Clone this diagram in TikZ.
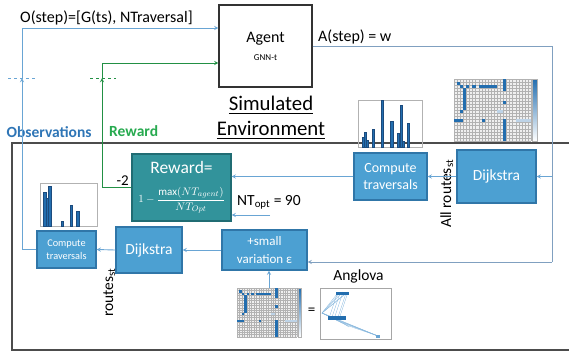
\documentclass[tikz,border=0pt]{standalone}
\usepackage{fontspec}
\setmainfont{Carlito}
\usepackage{amsmath}
\usepackage{tikz}
\usetikzlibrary{arrows,calc}

\definecolor{boxblue}{RGB}{76,160,210}
\definecolor{boxedge}{RGB}{48,118,168}
\definecolor{tealfill}{RGB}{50,147,155}
\definecolor{tealedge}{RGB}{32,108,115}
\definecolor{linkblue}{RGB}{105,165,212}
\definecolor{actgray}{RGB}{128,160,192}
\definecolor{obsblue}{RGB}{46,117,182}
\definecolor{rewgreen}{RGB}{40,170,80}
\definecolor{heatblue}{RGB}{35,110,175}
\definecolor{bardark}{RGB}{28,75,125}

\newcommand{\fsz}[1]{\fontsize{#1}{#1}\selectfont}

% adjacency matrix picture, one cell = one unit
\newcommand{\adjgrid}{%
  \fill[gray!12] (0,0) rectangle (25,20);
  \foreach \c in {0,...,25} \draw[gray!60,line width=0.15pt] (\c,0) -- (\c,20);
  \foreach \r in {0,...,20} \draw[gray!60,line width=0.15pt] (0,\r) -- (25,\r);
  \foreach \c/\r in {1/1,2/2,4/2,6/2,8/2,9/2,10/2,11/2,12/2,13/2,
                     16/0,16/1,16/2,16/3,16/7,16/13,16/14,16/15,16/16,16/17,16/18,16/19,
                     3/3,3/4,3/5,3/6,3/7,3/8,3/9,2/10,0/13,1/13,2/13,9/13}
    \fill[heatblue] (\c,\r) rectangle +(1,1);
  \foreach \c/\r in {14/10,15/10,20/13,21/13,22/13,23/13,24/13}
    \fill[heatblue!30] (\c,\r) rectangle +(1,1);
  \shade[top color=heatblue, bottom color=white] (25.4,0) rectangle (26.9,20);
  \draw[gray!60,line width=0.2pt] (25.4,0) rectangle (26.9,20);
}

\begin{document}
\begin{tikzpicture}[x=1pt,y=-1pt,
  bluebox/.style={draw=boxedge, fill=boxblue, line width=1.2pt, text=white, align=center, inner sep=0pt},
  tealbox/.style={draw=tealedge, fill=tealfill, line width=1.2pt, text=white, align=center, inner sep=0pt},
  conn/.style={draw=linkblue, line width=0.9pt, -stealth},
  obsline/.style={draw=linkblue, line width=0.9pt, -stealth},
  rewline/.style={draw=rewgreen!85!black, line width=0.9pt, -stealth},
  actline/.style={draw=actgray, line width=0.9pt},
  bar/.style={fill=heatblue, draw=bardark, line width=0.3pt}]
\useasboundingbox (0,0) rectangle (569,354);

% environment frame
\draw[black!70, line width=1.5pt] (12,143) rectangle (580,350);

% agent
\node[draw=black!80, line width=1.2pt, minimum width=93pt, minimum height=82pt, align=center,
      font=\fsz{16}] (agent) at (265.5,46) {Agent\\[2pt]{\fsz{9}GNN-t}};

% environment blocks
\node[bluebox, minimum width=79pt, minimum height=53pt, font=\fsz{15.5}] (dijR) at (496.5,176.5) {Dijkstra};
\node[bluebox, minimum width=73pt, minimum height=47pt, font=\fontsize{14}{17}\selectfont] (ctR) at (390.5,176.5) {Compute\\traversals};
\node[tealbox, minimum width=99pt, minimum height=67pt, font=\fontsize{17.5}{20}\selectfont] (reward) at (181.5,187.5)
  {Reward=\\[9pt]{\fsz{11}$\displaystyle 1-\frac{\max(NT_{agent})}{NT_{Opt}}$}};
\node[bluebox, minimum width=85pt, minimum height=40pt, font=\fontsize{13}{18}\selectfont] (eps) at (264.5,250) {+small\\variation ε};
\node[bluebox, minimum width=66pt, minimum height=46pt, font=\fsz{15.5}] (dijL) at (149,250) {Dijkstra};
\node[bluebox, minimum width=59pt, minimum height=37pt, font=\fontsize{10.3}{12.7}\selectfont] (ctL) at (66.5,249.5) {Compute\\traversals};

% texts
\node[anchor=base west, inner sep=0pt, font=\fsz{16}] (obstxt) at (20,22) {O(step)=[G(ts), NTraversal]};
\node[anchor=base west, inner sep=0pt, font=\fsz{16}] (acttxt) at (318,41) {A(step) = w};
\node[anchor=base west, inner sep=0pt, font=\bfseries\fsz{15.5}, text=obsblue] (obslbl) at (6.5,137.5) {Observations};
\node[anchor=base west, inner sep=0pt, font=\bfseries\fsz{15.5}, text=rewgreen] (rewlbl) at (109,136) {Reward};
\node[align=center, inner sep=0pt, font=\fontsize{20.8}{24.5}\selectfont] (simenv) at (271,118)
  {\underline{Simulated}\\\underline{Environment}};
\node[anchor=base east, inner sep=0pt, font=\fsz{15}] (minus) at (129,185.5) {-2};
\node[anchor=base west, inner sep=0pt, font=\fsz{15.5}] (nttxt) at (237,205.5) {NT\textsubscript{opt} = 90};
\node[anchor=base west, rotate=90, inner sep=0pt, font=\fsz{15.5}] (alltxt) at (451,228) {All routes\textsubscript{st}};
\node[anchor=base west, rotate=90, inner sep=0pt, font=\fsz{15.5}] (rtetxt) at (113,317) {routes\textsubscript{st}};
\node[inner sep=0pt, font=\fsz{15.5}] (anglbl) at (358.5,276) {Anglova};
\node[inner sep=0pt, font=\fsz{15}] (eqsign) at (311.5,311) {=};

% dashed step marks
\draw[linkblue, dashed, line width=0.7pt] (8,78) -- (35,78);
\draw[rewgreen!85!black, dashed, line width=0.7pt] (90,78) -- (116,78);

% observation loop
\coordinate (obstip) at (22,78);
\coordinate (obsbend) at (22,28);
\draw[obsline] (ctL.west) -| (obstip);
\draw[obsline] (obstip) |- (agent.west |- obsbend);

% reward loop
\coordinate (rewtip) at (102,78);
\coordinate (rewbend) at (102,63);
\draw[rewline] (reward.west) -| (rewtip);
\draw[rewline] (rewtip) |- (agent.west |- rewbend);

% action
\coordinate (actc) at (552,46);
\coordinate (actlow) at (552,262);
\draw[actline] (agent.east) -- (actc) -- (actlow);
\draw[actline, -stealth] (actlow) -- (actlow -| eps.east);
\draw[conn] (actc |- dijR.east) -- (dijR.east);

% inner flow
\draw[conn] (dijR.west) -- (ctR.east);
\draw[conn] (ctR.west) -- (ctR.west -| reward.east);
\coordinate (ntopt) at (270,215);
\draw[conn] (ntopt) -- (ntopt -| reward.east);
\draw[conn] (eps.west) -- (dijL.east);
\draw[conn] (dijL.west) -- (ctL.east);
\coordinate (matBtop) at (269,288);
\draw[conn] (matBtop) -- (matBtop |- eps.south);

% adjacency matrices
\begin{scope}[shift={(454,79)}, xscale=3.08, yscale=3.1]
  \adjgrid
\end{scope}
\begin{scope}[shift={(237,288)}, xscale=2.4, yscale=2.45]
  \adjgrid
\end{scope}

% traversal histograms
\draw[gray!60, line width=0.4pt] (358,100) rectangle (422,147);
\foreach \a/\b/\t in {361.7/364/137, 364/366/132.3, 366/368.3/140, 371.7/373.7/129, 381/383/100,
                      390.3/392.7/121, 397.3/399.3/132.7, 400/402/105.3, 402/404/140.7, 407/409.3/122.7}
  \filldraw[bar] (\a,147) rectangle (\b,\t);
\draw[gray!60, line width=0.4pt] (40,183) rectangle (97,226);
\foreach \a/\b/\t in {43.3/45.7/191.7, 45.7/48.3/198.3, 48.3/50.7/186, 61/63.3/221, 69.7/72/205.3, 76.3/78.7/210.7}
  \filldraw[bar] (\a,226) rectangle (\b,\t);

% anglova map
\draw[gray!70, line width=0.5pt] (320,288) rectangle (391,339);
\foreach \x/\y in {337/294, 340/293, 343/292, 346/293, 348/292} {
  \draw[linkblue!80, line width=0.3pt] (\x,\y) -- (322,313);
  \draw[linkblue!80, line width=0.3pt] (\x,\y) -- (\x-8,\y+24);
}
\foreach \x/\y in {327/315, 331/317, 335/319, 339/321, 343/323, 346/325} {
  \draw[linkblue!80, line width=0.3pt] (322,313) -- (\x,\y);
  \draw[linkblue!80, line width=0.3pt] (\x,\y) -- (378,336);
  \draw[linkblue!80, line width=0.3pt] (\x,\y) -- (\x+3,\y+2);
}
\fill[heatblue] (336,292) rectangle (349,295);
\fill[heatblue] (328,316) rectangle (346,320);
\fill[linkblue] (376,335) rectangle (380,338);
\end{tikzpicture}
\end{document}
